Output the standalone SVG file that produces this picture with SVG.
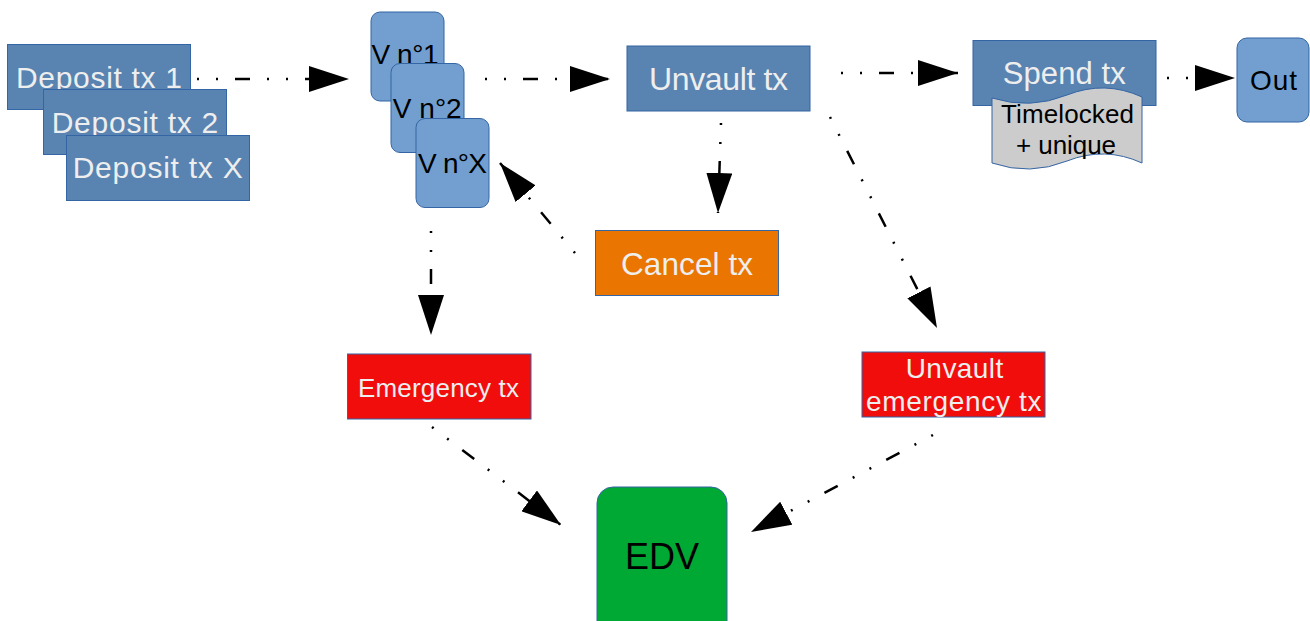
<svg xmlns="http://www.w3.org/2000/svg" width="1310" height="621" viewBox="0 0 1310 621">
<style>
text{font-family:"Liberation Sans",Arial,sans-serif}
.tx{fill:#5983b0;stroke:#3465a4;stroke-width:1}
.vb{fill:#729fcf;stroke:#3465a4;stroke-width:1}
.lt{fill:#eeeeee}
.dk{fill:#000000}
.con{fill:none;stroke:#000;stroke-width:2.5;stroke-dasharray:2 17 2 17 15 17;marker-end:url(#ah)}
</style>
<defs>
<marker id="ah" markerUnits="userSpaceOnUse" markerWidth="40" markerHeight="26" refX="40" refY="13" orient="auto" viewBox="0 0 40 26">
<path d="M0,0 L40,13 L0,26 Z" fill="#000"/>
</marker>
</defs>
<rect width="1310" height="621" fill="#ffffff"/>

<g id="deposit1"><rect class="tx" x="7.5" y="44.5" width="183" height="65"/><text class="lt" x="16" y="88.3" font-size="30" textLength="166">Deposit tx 1</text></g>
<g id="deposit2"><rect class="tx" x="43.5" y="89.5" width="183" height="65"/><text class="lt" x="51.7" y="132.7" font-size="30" textLength="166.6">Deposit tx 2</text></g>
<g id="depositX"><rect class="tx" x="66.5" y="135.5" width="183" height="65"/><text class="lt" x="72.7" y="178.3" font-size="30" textLength="170">Deposit tx X</text></g>

<g id="v1"><rect class="vb" x="371" y="12" width="73" height="89" rx="9"/><text class="dk" x="371.5" y="64.3" font-size="28" textLength="67">V n°1</text></g>
<g id="v2"><rect class="vb" x="391" y="63.5" width="73" height="89" rx="9"/><text class="dk" x="392.7" y="118.3" font-size="28" textLength="69">V n°2</text></g>
<g id="vX"><rect class="vb" x="416" y="118.5" width="73" height="89" rx="9"/><text class="dk" x="418" y="173.3" font-size="28" textLength="69">V n°X</text></g>

<g id="unvault"><rect class="tx" x="627" y="46" width="183" height="65"/><text class="lt" x="649" y="90" font-size="32" textLength="139">Unvault tx</text></g>

<g id="spend"><rect class="tx" x="973" y="40.5" width="183" height="65"/><text class="lt" x="1002.7" y="84" font-size="31" textLength="123">Spend tx</text></g>

<g id="timelocked"><path d="M992,98 Q1030,110 1067,95 Q1105,80 1142,97 L1142,163 Q1105,146 1067,161 Q1030,176 992,163 Z" fill="#cccccc" stroke="#3465a4" stroke-width="1"/><text class="dk" x="1001" y="123.3" font-size="26" textLength="133">Timelocked</text><text class="dk" x="1016" y="154" font-size="26" textLength="100">+ unique</text></g>

<g id="out"><rect class="vb" x="1237" y="38" width="72" height="84" rx="10"/><text class="dk" x="1250" y="90" font-size="28" textLength="47">Out</text></g>

<g id="cancel"><rect x="595.5" y="230.5" width="183" height="65" fill="#ea7500" stroke="#3465a4" stroke-width="1"/><text class="lt" x="621" y="275" font-size="31.5" textLength="132">Cancel tx</text></g>

<g id="emergency"><rect x="347.5" y="354" width="183.5" height="65" fill="#f10d0c" stroke="#3465a4" stroke-width="1"/><text class="lt" x="358" y="396.7" font-size="26" textLength="161">Emergency tx</text></g>

<g id="unvaultEmergency"><rect x="862" y="352" width="183" height="65" fill="#f10d0c" stroke="#3465a4" stroke-width="1"/><text class="lt" x="905.7" y="377.7" font-size="28" textLength="97.6">Unvault</text><text class="lt" x="866" y="410.7" font-size="28" textLength="175.5">emergency tx</text></g>

<g id="edv"><rect x="597" y="487" width="130" height="160" rx="16" fill="#00a933" stroke="#3465a4" stroke-width="1"/><text class="dk" x="625" y="569" font-size="36" textLength="74">EDV</text></g>

<g id="connectors">
<path class="con" d="M197,79 L349,79"/>
<path class="con" d="M485,79 L610,79"/>
<path class="con" d="M841,73 L958,73"/>
<path class="con" d="M1167,78 L1235,78"/>
<path class="con" d="M721,123 L718,213"/>
<path class="con" d="M575,253 L500,163"/>
<path class="con" d="M431,231 L431,335"/>
<path class="con" d="M830,117 L937,328"/>
<path class="con" d="M432,427 L561,525"/>
<path class="con" d="M933,435 L751,532"/>
</g>
</svg>
